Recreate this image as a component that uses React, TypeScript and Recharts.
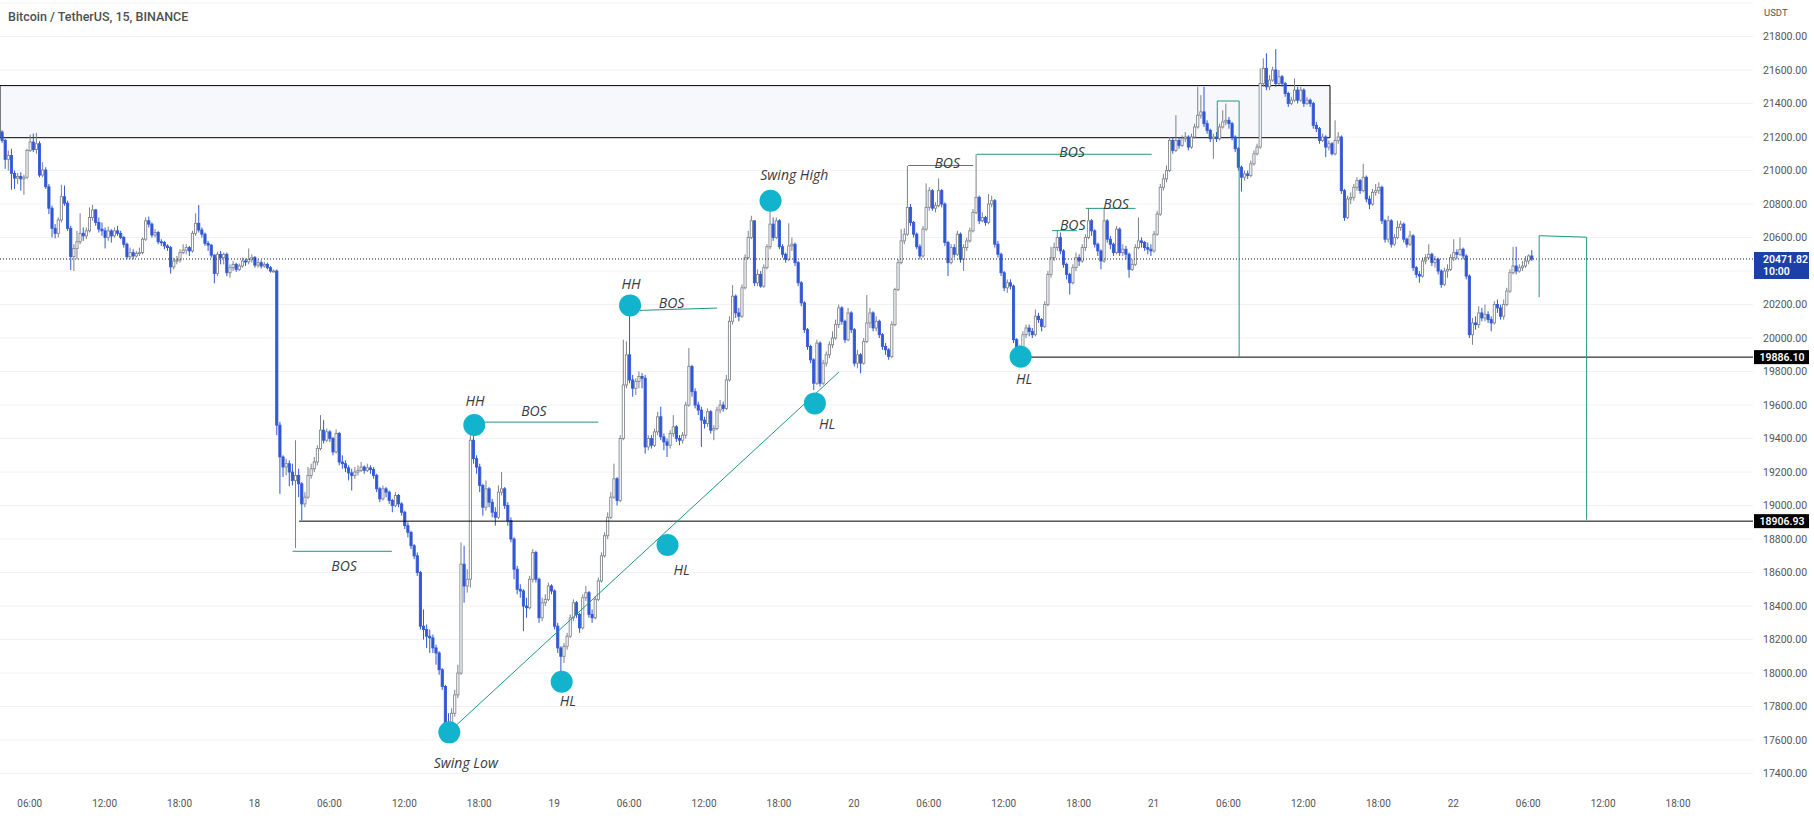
import React from 'react';
import {
  ComposedChart,
  Bar,
  XAxis,
  YAxis,
  CartesianGrid,
  ReferenceArea,
  ReferenceLine,
  ReferenceDot,
} from 'recharts';

// ---------------- data (15 minute candles, BTC/USDT) ----------------
const FIRST_OPEN = 21230;

const closes = [
  // 0-87 (17th)
  21180, 21067, 21090, 20983, 20955, 20965, 20950, 20960, 21120, 21170,
  21125, 21160, 20973, 21003, 20903, 20775, 20655, 20625, 20705, 20844,
  20805, 20655, 20486, 20535, 20575, 20625, 20610, 20640, 20720, 20765,
  20690, 20650, 20640, 20600, 20640, 20610, 20640, 20625, 20600, 20560,
  20485, 20510, 20490, 20505, 20510, 20590, 20700, 20680, 20615, 20630,
  20575, 20570, 20550, 20540, 20425, 20460, 20465, 20510, 20525, 20540,
  20520, 20625, 20685, 20645, 20620, 20565, 20555, 20495, 20385, 20500,
  20480, 20500, 20390, 20420, 20440, 20410, 20430, 20460, 20455, 20470,
  20480, 20435, 20450, 20430, 20440, 20420, 20400, 20400,
  // 88-199
  19480, 19290, 19230, 19250, 19200, 19150, 19180, 19130, 19010, 19050,
  19180, 19220, 19260, 19340, 19450, 19390, 19440, 19400, 19320, 19430,
  19260, 19250, 19225, 19195, 19180, 19200, 19210, 19230, 19210, 19225,
  19215, 19180, 19100, 19040, 19100, 19080, 19030, 19000, 19060, 19010,
  18960, 18880, 18840, 18760, 18700, 18600, 18280, 18260, 18220, 18210,
  18150, 18120, 18020, 17920, 17700, 17680, 17760, 17870, 18000, 18650,
  18520, 18560, 19390, 19280, 19230, 19120, 18990, 19100, 19020, 18960,
  18930, 19080, 19100, 19000, 18910, 18800, 18620, 18500, 18490, 18400,
  18390, 18560, 18720, 18560, 18330, 18420, 18440, 18520, 18490, 18280,
  18150, 18100, 18160, 18220, 18330, 18420, 18350, 18270, 18450, 18480,
  18350, 18330, 18440, 18550, 18700, 18820, 18930, 19050, 19160, 19030,
  19400, 19720,
  // 200-326
  19900, 19750, 19700, 19740, 19770, 19760, 19350, 19400, 19360, 19440,
  19530, 19410, 19380, 19360, 19430, 19470, 19400, 19390, 19420, 19600,
  19830, 19680, 19600, 19570, 19510, 19490, 19560, 19450, 19460, 19570,
  19600, 19580, 19750, 20100, 20250, 20150, 20130, 20300, 20480, 20600,
  20700, 20330, 20380, 20310, 20420, 20545, 20680, 20600, 20700, 20545,
  20500, 20470, 20550, 20560, 20450, 20330, 20210, 20050, 19950, 19870,
  19730, 19970, 19730, 19850, 19900, 19960, 20000, 20080, 20180, 20100,
  19990, 20150, 20050, 19850, 19900, 19850, 19980, 20090, 20150, 20060,
  20100, 20020, 19950, 19930, 19890, 20080, 20290, 20450, 20580, 20620,
  20780, 20690, 20620, 20545, 20490, 20650, 20780, 20880, 20775, 20790,
  20880, 20800, 20570, 20450, 20540, 20500, 20620, 20470, 20540, 20580,
  20640, 20750, 20840, 20700, 20720, 20690, 20800, 20820, 20560, 20500,
  20390, 20300, 20330, 20310, 19990, 19910, 19920,
  // 327-443
  20020, 20060, 20040, 20020, 20130, 20110, 20070, 20200, 20380, 20480,
  20540, 20600, 20520, 20440, 20380, 20330, 20420, 20480, 20460, 20540,
  20600, 20700, 20640, 20560, 20520, 20460, 20700, 20590, 20560, 20510,
  20650, 20510, 20530, 20500, 20410, 20440, 20540, 20580, 20570, 20540,
  20530, 20520, 20620, 20740, 20900, 20950, 21000, 21180, 21120, 21180,
  21150, 21190, 21200, 21140, 21200, 21260, 21330, 21350, 21280, 21240,
  21190, 21200, 21190, 21260, 21290, 21300, 21280, 21200, 21130, 21020,
  20960, 20980, 20970, 21040, 21100, 21140, 21520, 21610, 21500, 21540,
  21600, 21520, 21560, 21520, 21460, 21400, 21420, 21480, 21420, 21480,
  21400, 21420, 21400, 21270, 21250, 21180, 21200, 21140, 21160, 21100,
  21180, 21200, 20880, 20720, 20830, 20840, 20900, 20940, 20880, 20960,
  20830, 20800, 20870, 20880, 20900, 20700, 20590,
  // 444-490
  20700, 20560, 20600, 20660, 20680, 20590, 20560, 20610, 20420, 20380,
  20370, 20460, 20480, 20500, 20450, 20470, 20400, 20320, 20400, 20410,
  20480, 20510, 20500, 20530, 20490, 20370, 20020, 20090, 20080, 20150,
  20120, 20140, 20110, 20090, 20200, 20180, 20130, 20200, 20280, 20390,
  20430, 20400, 20420, 20430, 20460, 20490, 20471.82,
];

const highs = [
  21240, 21190, 21120, 21130, 21000, 20985, 20990, 20975, 21130, 21215,
  21220, 21225, 21175, 21050, 21020, 20920, 20790, 20680, 20720, 20915,
  20910, 20820, 20670, 20560, 20640, 20745, 20660, 20660, 20780, 20795,
  20770, 20720, 20690, 20660, 20665, 20650, 20660, 20670, 20640, 20610,
  20570, 20540, 20530, 20520, 20540, 20600, 20720, 20725, 20690, 20650,
  20640, 20590, 20580, 20560, 20550, 20480, 20490, 20530, 20560, 20560,
  20550, 20640, 20745, 20794, 20660, 20630, 20580, 20560, 20500, 20515,
  20520, 20510, 20510, 20440, 20460, 20450, 20445, 20480, 20475, 20535,
  20500, 20490, 20470, 20465, 20455, 20450, 20430, 20410,
  20410, 19500, 19300, 19280, 19270, 19250, 19390, 19220, 19140, 19080,
  19230, 19250, 19290, 19360, 19540, 19510, 19460, 19450, 19410, 19455,
  19440, 19300, 19270, 19240, 19220, 19230, 19240, 19260, 19240, 19250,
  19240, 19230, 19190, 19110, 19120, 19110, 19090, 19040, 19080, 19070,
  19020, 18970, 18900, 18850, 18770, 18720, 18610, 18380, 18290, 18260,
  18230, 18170, 18130, 18030, 17930, 17760, 17790, 17900, 18050, 18780,
  18760, 18620, 19420, 19490, 19300, 19250, 19130, 19150, 19110, 19040,
  18990, 19120, 19200, 19110, 19020, 18930, 18810, 18640, 18530, 18500,
  18450, 18580, 18740, 18730, 18570, 18450, 18470, 18540, 18530, 18500,
  18300, 18160, 18180, 18240, 18350, 18440, 18430, 18360, 18470, 18520,
  18490, 18380, 18460, 18570, 18720, 18840, 18960, 19080, 19250, 19170,
  19420, 19990,
  19980, 20190, 19780, 19760, 19800, 19790, 19780, 19420, 19420, 19460,
  19560, 19590, 19430, 19400, 19450, 19540, 19480, 19420, 19440, 19620,
  19940, 19840, 19700, 19620, 19590, 19530, 19580, 19570, 19480, 19590,
  19630, 19620, 19780, 20130, 20316, 20260, 20180, 20320, 20500, 20640,
  20730, 20700, 20410, 20400, 20440, 20560, 20820, 20720, 20720, 20710,
  20560, 20510, 20685, 20600, 20570, 20460, 20340, 20220, 20060, 19960,
  19880, 19990, 19980, 19870, 19920, 19980, 20040, 20110, 20200, 20190,
  20110, 20180, 20160, 20060, 19930, 19910, 20000, 20257, 20180, 20160,
  20130, 20110, 20030, 19970, 19940, 20100, 20300, 20470, 20650, 20655,
  21027, 20800, 20700, 20630, 20560, 20670, 20923, 20900, 20890, 20810,
  20953, 20890, 20810, 20580, 20560, 20560, 20640, 20630, 20560, 20600,
  20660, 20770, 21097, 20850, 20750, 20730, 20860, 20850, 20830, 20580,
  20510, 20400, 20350, 20350, 20320, 20000, 19960,
  20040, 20080, 20080, 20060, 20170, 20150, 20120, 20220, 20400, 20545,
  20570, 20640, 20630, 20530, 20450, 20390, 20440, 20510, 20500, 20560,
  20620, 20774, 20710, 20650, 20570, 20530, 20770, 20710, 20610, 20570,
  20670, 20660, 20560, 20550, 20510, 20470, 20560, 20720, 20600, 20580,
  20570, 20560, 20640, 20760, 20920, 20980, 21030, 21200, 21200, 21330,
  21200, 21210, 21230, 21210, 21220, 21280, 21500, 21450, 21500, 21300,
  21250, 21220, 21230, 21280, 21360, 21400, 21320, 21290, 21210, 21140,
  21030, 21000, 21000, 21060, 21120, 21160, 21610, 21670, 21700, 21570,
  21620, 21725, 21600, 21570, 21530, 21470, 21440, 21550, 21500, 21500,
  21490, 21440, 21430, 21410, 21290, 21260, 21220, 21210, 21180, 21170,
  21300, 21230, 21210, 20890, 20850, 20870, 20920, 20960, 20950, 21040,
  20970, 20850, 20890, 20920, 20930, 20910, 20710,
  20730, 20710, 20620, 20700, 20700, 20690, 20600, 20640, 20620, 20430,
  20400, 20480, 20500, 20560, 20510, 20490, 20480, 20410, 20420, 20440,
  20500, 20590, 20530, 20600, 20540, 20500, 20380, 20120, 20130, 20190,
  20180, 20200, 20160, 20130, 20220, 20230, 20200, 20230, 20300, 20410,
  20545, 20545, 20440, 20460, 20490, 20500, 20525,
];

const lows = [
  21165, 21010, 21000, 20885, 20890, 20920, 20880, 20855, 20950, 21110,
  21110, 21100, 20960, 20960, 20890, 20740, 20600, 20595, 20600, 20690,
  20790, 20640, 20406, 20400, 20470, 20560, 20580, 20590, 20630, 20700,
  20670, 20630, 20610, 20535, 20580, 20570, 20600, 20610, 20590, 20540,
  20470, 20470, 20470, 20480, 20490, 20500, 20580, 20660, 20600, 20600,
  20560, 20550, 20530, 20520, 20385, 20410, 20440, 20450, 20500, 20500,
  20490, 20510, 20610, 20630, 20600, 20550, 20520, 20480, 20327, 20370,
  20440, 20440, 20370, 20360, 20400, 20395, 20400, 20420, 20430, 20440,
  20450, 20420, 20420, 20415, 20420, 20410, 20390, 20395,
  19420, 19070, 19170, 19180, 19115, 19120, 18747, 19050, 18913, 18990,
  19040, 19160, 19200, 19240, 19330, 19370, 19380, 19380, 19300, 19310,
  19240, 19220, 19200, 19150, 19090, 19160, 19180, 19200, 19190, 19200,
  19190, 19160, 19080, 19020, 19030, 19050, 19010, 18960, 18990, 18990,
  18940, 18860, 18810, 18740, 18680, 18580, 18260, 18200, 18150, 18120,
  18120, 18050, 17990, 17900, 17640, 17630, 17650, 17740, 17850, 17990,
  18420, 18480, 18510, 19250, 19190, 19080, 18940, 18970, 18990, 18930,
  18880, 18920, 19060, 18980, 18880, 18780, 18560, 18470, 18450, 18250,
  18330, 18380, 18540, 18540, 18300, 18310, 18400, 18430, 18470, 18260,
  18120, 18000, 18060, 18140, 18210, 18310, 18330, 18240, 18260, 18430,
  18330, 18300, 18320, 18430, 18540, 18690, 18800, 18920, 19040, 19000,
  19020, 19390,
  19700, 19730, 19650, 19660, 19700, 19700, 19310, 19330, 19340, 19350,
  19420, 19390, 19330, 19290, 19340, 19410, 19380, 19360, 19370, 19400,
  19590, 19650, 19580, 19540, 19350, 19460, 19470, 19430, 19390, 19450,
  19550, 19560, 19570, 19740, 20080, 20120, 20100, 20120, 20290, 20470,
  20590, 20310, 20310, 20300, 20300, 20410, 20530, 20580, 20590, 20530,
  20480, 20450, 20460, 20520, 20430, 20310, 20190, 20030, 19930, 19850,
  19690, 19720, 19710, 19720, 19830, 19880, 19940, 19990, 20060, 20080,
  19970, 19980, 20030, 19830, 19820, 19790, 19840, 19970, 20060, 20040,
  20040, 20000, 19930, 19900, 19870, 19880, 20070, 20280, 20440, 20560,
  20610, 20670, 20600, 20530, 20470, 20480, 20640, 20760, 20760, 20750,
  20780, 20780, 20550, 20370, 20440, 20480, 20490, 20450, 20400, 20520,
  20570, 20630, 20740, 20680, 20690, 20670, 20680, 20780, 20540, 20480,
  20370, 20280, 20270, 20290, 19970, 19890, 19886.1,
  19900, 20000, 20010, 20000, 20010, 20090, 20040, 20060, 20190, 20360,
  20460, 20520, 20500, 20420, 20350, 20260, 20320, 20400, 20430, 20450,
  20520, 20590, 20610, 20540, 20490, 20410, 20450, 20570, 20530, 20490,
  20500, 20490, 20490, 20470, 20360, 20400, 20430, 20530, 20540, 20520,
  20500, 20490, 20510, 20610, 20730, 20880, 20930, 20990, 21100, 21110,
  21130, 21140, 21170, 21120, 21130, 21190, 21250, 21310, 21260, 21220,
  21170, 21070, 21170, 21180, 21250, 21270, 21250, 21180, 21110, 21000,
  20874, 20940, 20950, 20960, 21030, 21090, 21130, 21500, 21480, 21480,
  21530, 21500, 21510, 21500, 21440, 21380, 21390, 21410, 21400, 21410,
  21380, 21390, 21380, 21250, 21230, 21160, 21170, 21080, 21120, 21090,
  21090, 21160, 20860, 20700, 20710, 20800, 20820, 20880, 20860, 20870,
  20810, 20770, 20790, 20850, 20860, 20680, 20570,
  20570, 20540, 20550, 20590, 20640, 20570, 20540, 20550, 20400, 20360,
  20330, 20360, 20440, 20470, 20430, 20420, 20380, 20300, 20310, 20360,
  20400, 20460, 20470, 20490, 20470, 20350, 20000, 19960, 20050, 20060,
  20100, 20100, 20090, 20040, 20080, 20150, 20110, 20110, 20190, 20270,
  20380, 20380, 20390, 20400, 20420, 20440, 20460,
];

// time axis: candle index of each label (6h = 24 candles)
const xTicks = [9, 33, 57, 81, 105, 129, 153, 177, 201, 225, 249, 273, 297, 321, 345, 369, 393, 417, 441, 465, 489, 513, 537];
const xTickLabels = [
  '06:00', '12:00', '18:00', '18', '06:00', '12:00', '18:00', '19', '06:00', '12:00', '18:00', '20',
  '06:00', '12:00', '18:00', '21', '06:00', '12:00', '18:00', '22', '06:00', '12:00', '18:00',
];

// price axis
const yTicks = [17400, 17600, 17800, 18000, 18200, 18400, 18600, 18800, 19000, 19200, 19400, 19600, 19800, 20000, 20200, 20600, 20800, 21000, 21200, 21400, 21600, 21800];
const gridLevels = [17400, 17600, 17800, 18000, 18200, 18400, 18600, 18800, 19000, 19200, 19400, 19600, 19800, 20000, 20200, 20400, 20600, 20800, 21000, 21200, 21400, 21600, 21800, 22000];

// annotations (candle index, price)
const zoneBox = { i1: -0.52, i2: 425.5, p1: 21196, p2: 21507 };
const swingDots = [
  { i: 143.4, p: 17646 },
  { i: 151.4, p: 19481 },
  { i: 179.4, p: 17948 },
  { i: 213.3, p: 18764 },
  { i: 201.3, p: 20195 },
  { i: 246.3, p: 20820 },
  { i: 260.5, p: 19610 },
  { i: 326.4, p: 19888 },
];
const noteTexts = [
  { i: 148.7, p: 17469, text: 'Swing Low' },
  { i: 151.6, p: 19630, text: 'HH' },
  { i: 181.4, p: 17839, text: 'HL' },
  { i: 217.8, p: 18620, text: 'HL' },
  { i: 201.6, p: 20327, text: 'HH' },
  { i: 253.9, p: 20977, text: 'Swing High' },
  { i: 264.4, p: 19487, text: 'HL' },
  { i: 327.5, p: 19757, text: 'HL' },
  { i: 109.7, p: 18641, text: 'BOS' },
  { i: 170.5, p: 19570, text: 'BOS' },
  { i: 214.6, p: 20213, text: 'BOS' },
  { i: 302.9, p: 21047, text: 'BOS' },
  { i: 342.9, p: 21116, text: 'BOS' },
  { i: 343.1, p: 20675, text: 'BOS' },
  { i: 357.0, p: 20804, text: 'BOS' },
];
const greenSegments = [
  { i1: 93.2, p1: 18727, i2: 125.0, p2: 18727 },
  { i1: 154.5, p1: 19498, i2: 191.1, p2: 19498 },
  { i1: 204.5, p1: 20165, i2: 229.2, p2: 20179 },
  { i1: 290.4, p1: 21030, i2: 311.2, p2: 21030 },
  { i1: 312.3, p1: 21097, i2: 368.4, p2: 21097 },
  { i1: 336.5, p1: 20641, i2: 344.4, p2: 20641 },
  { i1: 347.3, p1: 20774, i2: 363.2, p2: 20774 },
  { i1: 143.6, p1: 17654, i2: 268.2, p2: 19797 },
  { i1: 389.4, p1: 21200, i2: 389.4, p2: 21415 },
  { i1: 389.4, p1: 21415, i2: 396.4, p2: 21415 },
  { i1: 396.4, p1: 21415, i2: 396.4, p2: 19886 },
  { i1: 492.5, p1: 20243, i2: 492.5, p2: 20611 },
  { i1: 492.5, p1: 20611, i2: 507.7, p2: 20602 },
  { i1: 507.7, p1: 20602, i2: 507.7, p2: 18915 },
];
const levelLines = [
  { i1: 95.3, p: 18906.93, text: '18906.93' },
  { i1: 323.3, p: 19886.1, text: '19886.10' },
];
const LAST_PRICE = 20471.82;
const LAST_PRICE_TEXT = '20471.82';
const COUNTDOWN = '10:00';

// ---------------- layout / style ----------------
const CHART_W = 1814;
const CHART_H = 818;
const AXIS_W = 61;
const TIME_H = 28;
const X_DOMAIN: [number, number] = [-0.52, 561.0];
const Y_DOMAIN: [number, number] = [17302, 22018];

const DOWN = '#3157d5';
const UP_EDGE = '#7c8089';
const GREEN = '#1f9783';
const CYAN = '#12b4cd';
const AXIS_TEXT = '#555555';
const FONT = 'Roboto, "Liberation Sans", sans-serif';
const NOTE_FONT = '"Open Sans", "DejaVu Sans", sans-serif';

const candles = closes.map((c, i) => {
  const o = i === 0 ? FIRST_OPEN : closes[i - 1];
  const hi = Math.max(highs[i], o, c);
  const lo = Math.min(lows[i], o, c);
  return { i, o, c, range: [lo, hi] };
});

function Candle(props: any) {
  const { x, y, width, height, payload } = props;
  if (!payload || x == null || y == null || !payload.range) return null;
  const { o, c } = payload;
  const [lo, hi] = payload.range;
  const cx = x + width / 2;
  const span = hi - lo;
  const py = (v: number) => (span > 0 ? y + ((hi - v) / span) * height : y);
  const up = c >= o;
  const top = py(Math.max(o, c));
  const bodyH = Math.max(py(Math.min(o, c)) - top, 1);
  const col = up ? UP_EDGE : DOWN;
  return (
    <g>
      <line x1={cx} x2={cx} y1={y} y2={top} stroke={col} strokeWidth={1} />
      <line x1={cx} x2={cx} y1={top + bodyH} y2={y + height} stroke={col} strokeWidth={1} />
      <rect x={cx - 1.1} y={top} width={2.2} height={bodyH} fill={up ? '#ffffff' : DOWN} stroke={col} strokeWidth={0.85} />
    </g>
  );
}

function XTick(props: any) {
  const { x, y, payload } = props;
  const k = xTicks.indexOf(payload.value);
  return (
    <text x={x} y={y + 13} textAnchor="middle" dominantBaseline="central" fontSize={10} fontFamily={FONT} fill={AXIS_TEXT}>
      {k >= 0 ? xTickLabels[k] : ''}
    </text>
  );
}

function YTick(props: any) {
  const { x, y, payload } = props;
  return (
    <text x={x + 10} y={y} textAnchor="start" dominantBaseline="central" fontSize={10.5} fontFamily={FONT} fill={AXIS_TEXT}>
      {Number(payload.value).toFixed(2)}
    </text>
  );
}

function PriceTag(props: any) {
  const { viewBox, text, sub, bg } = props;
  if (!viewBox) return null;
  const right = viewBox.x + viewBox.width;
  const yy = viewBox.y + (viewBox.height || 0) / 2;
  const bx = right + 1;
  const h = sub ? 27 : 14;
  return (
    <g>
      <rect x={bx} y={yy - 7} width={55} height={h} fill={bg} />
      <text x={sub ? bx + 9 : bx + 28} y={yy} textAnchor={sub ? 'start' : 'middle'} dominantBaseline="central" fill="#ffffff" fontSize={10.5} fontWeight={600} fontFamily={FONT}>
        {text}
      </text>
      {sub ? (
        <text x={bx + 9} y={yy + 12.5} dominantBaseline="central" fill="#ffffff" fontSize={10.5} fontWeight={600} fontFamily={FONT}>
          {sub}
        </text>
      ) : null}
    </g>
  );
}

const noteShape = (text: string) => (p: any) => (
  <text
    x={p.cx}
    y={p.cy}
    textAnchor="middle"
    dominantBaseline="central"
    fontSize={14}
    fontStyle="italic"
    fontFamily={NOTE_FONT}
    fill="#3a3a3a"
  >
    {text}
  </text>
);

export default function App() {
  return (
    <div style={{ position: 'absolute', left: 0, top: 0, width: CHART_W, height: CHART_H, background: '#ffffff', overflow: 'hidden' }}>
      <ComposedChart width={CHART_W} height={CHART_H} data={candles} margin={{ top: 0, right: 0, bottom: 0, left: 0 }}>
        <CartesianGrid vertical={false} stroke="#f0f2f7" horizontalValues={gridLevels} />
        <XAxis
          dataKey="i"
          type="number"
          domain={X_DOMAIN}
          allowDataOverflow
          ticks={xTicks}
          interval={0}
          height={TIME_H}
          tickSize={0}
          tickMargin={0}
          tickLine={false}
          axisLine={false}
          tick={<XTick />}
        />
        <YAxis
          orientation="right"
          type="number"
          domain={Y_DOMAIN}
          allowDataOverflow
          ticks={yTicks}
          interval={0}
          width={AXIS_W}
          tickSize={0}
          tickMargin={0}
          tickLine={false}
          axisLine={false}
          tick={<YTick />}
        />
        <ReferenceArea
          x1={zoneBox.i1}
          x2={zoneBox.i2}
          y1={zoneBox.p1}
          y2={zoneBox.p2}
          fill="#f6f8fc"
          fillOpacity={1}
          stroke="#000000"
          strokeWidth={1}
          ifOverflow="visible"
        />
        {swingDots.map((d, k) => (
          <ReferenceDot key={'dot' + k} x={d.i} y={d.p} r={11} fill={CYAN} stroke="none" ifOverflow="visible" />
        ))}
        <Bar dataKey="range" barSize={2} isAnimationActive={false} shape={Candle} />
        {levelLines.map((l, k) => (
          <ReferenceLine
            key={'lvl' + k}
            segment={[{ x: l.i1, y: l.p }, { x: X_DOMAIN[1], y: l.p }]}
            stroke="#000000"
            strokeWidth={1}
            ifOverflow="visible"
            label={<PriceTag text={l.text} bg="#000000" />}
          />
        ))}
        <ReferenceLine
          y={LAST_PRICE}
          stroke="#1a1a1a"
          strokeDasharray="1 2"
          strokeWidth={1}
          ifOverflow="visible"
          label={<PriceTag text={LAST_PRICE_TEXT} sub={COUNTDOWN} bg="#1c40a8" />}
        />
        {greenSegments.map((s, k) => (
          <ReferenceLine
            key={'g' + k}
            segment={[{ x: s.i1, y: s.p1 }, { x: s.i2, y: s.p2 }]}
            stroke={GREEN}
            strokeWidth={1}
            ifOverflow="visible"
          />
        ))}
        {noteTexts.map((t, k) => (
          <ReferenceDot key={'t' + k} x={t.i} y={t.p} r={1} ifOverflow="visible" shape={noteShape(t.text)} />
        ))}
      </ComposedChart>
      <div
        style={{
          position: 'absolute',
          left: 8,
          top: 8,
          fontFamily: FONT,
          fontSize: 12.5,
          fontWeight: 500,
          color: '#4f4f4f',
          lineHeight: '17px',
          whiteSpace: 'nowrap',
        }}
      >
        Bitcoin / TetherUS, 15, BINANCE
      </div>
      <div
        style={{
          position: 'absolute',
          left: 1764,
          top: 7,
          fontFamily: FONT,
          fontSize: 9.5,
          color: AXIS_TEXT,
          lineHeight: '12px',
        }}
      >
        USDT
      </div>
    </div>
  );
}
